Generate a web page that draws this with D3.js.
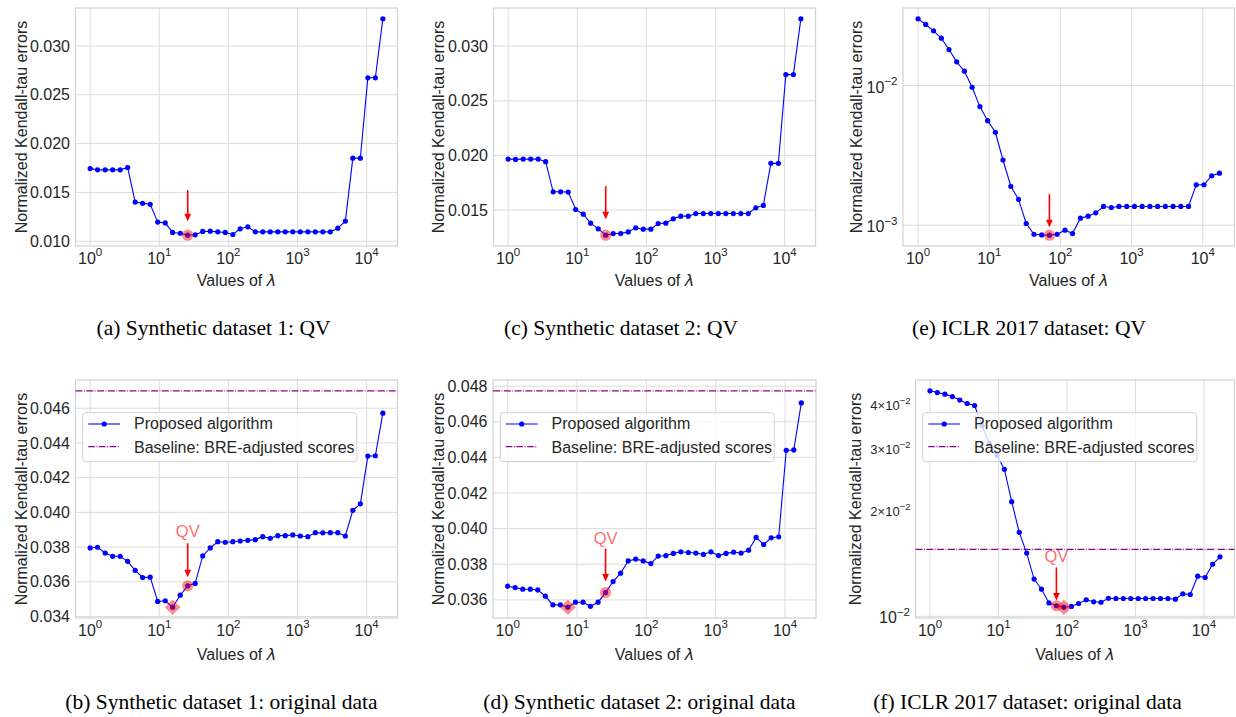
<!DOCTYPE html>
<html>
<head>
<meta charset="utf-8">
<script src="https://cdn.jsdelivr.net/npm/d3@7"></script>
<style>
body { margin: 0; background: #fff; }
svg { display: block; font-family: "Liberation Sans", Arial, sans-serif; }
</style>
</head>
<body>
<svg id="fig" width="1236" height="717"></svg>
<script>
// lambda values (x axis), shared by all six panels
var lambdas = [1, 1.28, 1.65, 2.12, 2.72, 3.49, 4.48, 5.75, 7.39, 9.49,
	12.2, 15.6, 20.1, 25.8, 33.1, 42.5, 54.6, 70.1, 90.0, 116,
	148, 191, 245, 314, 403, 518, 665, 854, 1097, 1408,
	1808, 2322, 2981, 3828, 4915, 6311, 8103, 10405, 13360, 17154];

// normalized Kendall-tau errors
var errSyn1QV = [0.01744, 0.01731, 0.01731, 0.01731, 0.01731, 0.01755, 0.01401, 0.01388, 0.01378, 0.01196,
	0.01188, 0.0109, 0.01082, 0.01062, 0.01066, 0.011, 0.01103, 0.01096, 0.0109, 0.01069,
	0.01127, 0.01148, 0.01096, 0.01096, 0.01096, 0.01096, 0.01096, 0.01096, 0.01096, 0.01096,
	0.01096, 0.01096, 0.01096, 0.01134, 0.01206, 0.01851, 0.01851, 0.02674, 0.02674, 0.03278];
var errSyn2QV = [0.01967, 0.01964, 0.01967, 0.01967, 0.01967, 0.01943, 0.01668, 0.01668, 0.01665, 0.01506,
	0.01463, 0.01381, 0.01329, 0.01271, 0.01286, 0.01286, 0.01301, 0.01338, 0.01326, 0.01326,
	0.01378, 0.01381, 0.01421, 0.01445, 0.01445, 0.01469, 0.01469, 0.01469, 0.01469, 0.01469,
	0.01469, 0.01469, 0.01469, 0.01521, 0.01543, 0.01928, 0.01928, 0.0274, 0.0274, 0.0325];
var errIclrQV = [0.03009, 0.02742, 0.02469, 0.02188, 0.01813, 0.01479, 0.01268, 0.00973, 0.00707, 0.00561,
	0.00463, 0.00293, 0.0019, 0.00153, 0.001028, 0.000861, 0.000852, 0.000848, 0.000861, 0.000921,
	0.000871, 0.001122, 0.001161, 0.001226, 0.001362, 0.001339, 0.001362, 0.001362, 0.001362, 0.001362,
	0.001362, 0.001362, 0.001362, 0.001362, 0.001362, 0.001362, 0.001948, 0.001948, 0.00226, 0.00236];
var errSyn1Orig = [0.03795, 0.03799, 0.03766, 0.03747, 0.03747, 0.03718, 0.03666, 0.03625, 0.03627, 0.03487,
	0.03491, 0.03454, 0.03523, 0.03577, 0.03591, 0.03749, 0.03795, 0.03831, 0.03828, 0.03831,
	0.03835, 0.03839, 0.03843, 0.0386, 0.03851, 0.03866, 0.03866, 0.0387, 0.03864, 0.0386,
	0.03883, 0.03882, 0.03883, 0.03883, 0.03864, 0.04012, 0.04049, 0.04324, 0.04326, 0.04571];
var errSyn2Orig = [0.03677, 0.03669, 0.0366, 0.0366, 0.03656, 0.03621, 0.03572, 0.03572, 0.03559, 0.03587,
	0.03587, 0.03564, 0.03587, 0.03641, 0.03703, 0.0375, 0.03819, 0.03829, 0.03819, 0.03804,
	0.03846, 0.03848, 0.03861, 0.0387, 0.03866, 0.03863, 0.03855, 0.0387, 0.03849, 0.03861,
	0.03868, 0.03863, 0.03879, 0.03951, 0.03911, 0.03949, 0.03954, 0.0444, 0.04442, 0.04706];
var errIclrOrig = [0.04383, 0.04334, 0.04289, 0.04222, 0.04124, 0.04034, 0.03981, 0.03486, 0.03105, 0.02871,
	0.0262, 0.0212, 0.01734, 0.01514, 0.01277, 0.01195, 0.01092, 0.01072, 0.01062, 0.01067,
	0.01088, 0.01115, 0.011, 0.01097, 0.01126, 0.01124, 0.01124, 0.01124, 0.01124, 0.01124,
	0.01124, 0.01124, 0.01124, 0.01119, 0.01159, 0.01154, 0.01301, 0.0129, 0.01407, 0.01477];

// baseline (BRE-adjusted scores)
var baseSyn1 = 0.0470, baseSyn2 = 0.04774, baseIclr = 0.0155;

// tick labels
var xTicks = [1, 10, 100, 1000, 10000];
var yTicksSyn1QV = [0.010, 0.015, 0.020, 0.025, 0.030];
var yTicksSyn2QV = [0.015, 0.020, 0.025, 0.030];
var yTicksIclrQV = [0.001, 0.01];
var yTicksSyn1Orig = [0.034, 0.036, 0.038, 0.040, 0.042, 0.044, 0.046];
var yTicksSyn2Orig = [0.036, 0.038, 0.040, 0.042, 0.044, 0.046, 0.048];
var yTicksIclrOrig = [0.01];
var yMinorIclrOrig = [0.02, 0.03, 0.04];

var legendNames = ["Proposed algorithm", "Baseline: BRE-adjusted scores"];
var captions = ["(a) Synthetic dataset 1: QV", "(c) Synthetic dataset 2: QV", "(e) ICLR 2017 dataset: QV",
	"(b) Synthetic dataset 1: original data", "(d) Synthetic dataset 2: original data", "(f) ICLR 2017 dataset: original data"];

var panels = [
	{data: errSyn1QV, ticks: yTicksSyn1QV, logY: false, left: 75.5, right: 397.5, top: 8, bottom: 246, xlabGap: 40,
		qv: 13, tipGap: 14, arrowLen: 31, ylabX: 26.5, cap: 0, capX: 213.5, capY: 335},
	{data: errSyn2QV, ticks: yTicksSyn2QV, logY: false, left: 493.5, right: 815.5, top: 8, bottom: 246, xlabGap: 40,
		qv: 13, tipGap: 16, arrowLen: 33, ylabX: 443.5, cap: 1, capX: 621, capY: 335},
	{data: errIclrQV, ticks: yTicksIclrQV, logY: true, left: 903, right: 1234.5, top: 8, bottom: 246, xlabGap: 40,
		qv: 17, tipGap: 8, arrowLen: 33, ylabX: 861.5, cap: 2, capX: 1029, capY: 335},
	{data: errSyn1Orig, ticks: yTicksSyn1Orig, logY: false, left: 75.5, right: 397.5, top: 380, bottom: 618, xlabGap: 42,
		qv: 13, best: 11, base: baseSyn1, tipGap: 8.6, arrowLen: 34, textGap: 6, ylabX: 26.5, cap: 3, capX: 221.5, capY: 709},
	{data: errSyn2Orig, ticks: yTicksSyn2Orig, logY: false, left: 493, right: 816, top: 380, bottom: 618, xlabGap: 42,
		qv: 13, best: 8, base: baseSyn2, tipGap: 11, arrowLen: 33, textGap: 4.5, ylabX: 443.5, cap: 4, capX: 639.5, capY: 709},
	{data: errIclrOrig, ticks: yTicksIclrOrig, minor: yMinorIclrOrig, logY: true, left: 915.5, right: 1234.5, top: 380, bottom: 618, xlabGap: 42,
		qv: 17, best: 18, base: baseIclr, tipGap: 5.3, arrowLen: 33, textGap: 5, ylabX: 860.7, cap: 5, capX: 1027.5, capY: 709}
];

var svg = d3.select("#fig");
var textColor = "#262626", gridColor = "#dcdcdc";

function padLog(vals) {
	var e = d3.extent(vals).map(Math.log10), d = (e[1] - e[0]) * 0.05;
	return [Math.pow(10, e[0] - d), Math.pow(10, e[1] + d)];
}
function padLin(vals) {
	var e = d3.extent(vals), d = (e[1] - e[0]) * 0.05;
	return [e[0] - d, e[1] + d];
}
function supLabel(sel, base, exp, bigSize, smallSize) {
	sel.append("tspan").attr("font-size", bigSize).text(base);
	sel.append("tspan").attr("font-size", smallSize).attr("dy", -0.45 * bigSize).text(exp);
}

panels.forEach(function(p) {
	var x = d3.scaleLog().domain(padLog(lambdas)).range([p.left, p.right]);
	var yVals = p.base != null ? p.data.concat([p.base]) : p.data;
	var y = (p.logY ? d3.scaleLog().domain(padLog(yVals)) : d3.scaleLinear().domain(padLin(yVals)))
		.range([p.bottom, p.top]);

	var g = svg.append("g");

	// grid
	g.selectAll(".vg").data(xTicks).enter().append("line")
		.attr("x1", function(d) { return x(d); }).attr("x2", function(d) { return x(d); })
		.attr("y1", p.top).attr("y2", p.bottom)
		.attr("stroke", gridColor).attr("stroke-width", 1);
	g.selectAll(".hg").data(p.ticks).enter().append("line")
		.attr("x1", p.left).attr("x2", p.right)
		.attr("y1", function(d) { return y(d); }).attr("y2", function(d) { return y(d); })
		.attr("stroke", gridColor).attr("stroke-width", 1);
	g.append("rect")
		.attr("x", p.left).attr("y", p.top)
		.attr("width", p.right - p.left).attr("height", p.bottom - p.top)
		.attr("fill", "none").attr("stroke", "#d2d2d2").attr("stroke-width", 1.2);

	// x tick labels
	g.selectAll(".xt").data(xTicks).enter().append("text")
		.attr("x", function(d) { return x(d); }).attr("y", p.bottom + 17.5)
		.attr("text-anchor", "middle").attr("fill", textColor)
		.each(function(d) { supLabel(d3.select(this), "10", String(Math.round(Math.log10(d))), 16, 11.5); });

	// y tick labels
	var yt = g.selectAll(".yt").data(p.ticks).enter().append("text")
		.attr("x", p.left - 5.5).attr("text-anchor", "end").attr("fill", textColor);
	if (p.logY) {
		yt.attr("y", function(d) { return y(d) + 7; })
			.each(function(d) { supLabel(d3.select(this), "10", "\u2212" + Math.round(-Math.log10(d)), 16, 11.5); });
	} else {
		yt.attr("y", function(d) { return y(d); }).attr("dy", "0.35em").attr("font-size", 16)
			.text(function(d) { return d3.format(".3f")(d); });
	}
	if (p.minor) {
		g.selectAll(".ym").data(p.minor).enter().append("text")
			.attr("x", p.left - 5).attr("y", function(d) { return y(d) + 5; })
			.attr("text-anchor", "end").attr("fill", textColor)
			.each(function(d) { supLabel(d3.select(this), Math.round(d * 100) + "\u00d710", "\u22122", 13, 9.5); });
	}

	// axis labels
	var xl = g.append("text")
		.attr("x", (p.left + p.right) / 2).attr("y", p.bottom + p.xlabGap)
		.attr("text-anchor", "middle").attr("font-size", 16).attr("fill", textColor);
	xl.append("tspan").text("Values of ");
	xl.append("tspan").attr("font-family", "DejaVu Sans").attr("font-style", "italic").text("\u03bb");
	g.append("text")
		.attr("transform", "translate(" + p.ylabX + "," + (p.top + p.bottom) / 2 + ") rotate(-90)")
		.attr("text-anchor", "middle").attr("font-size", 16).attr("fill", textColor)
		.text("Normalized Kendall-tau errors");

	// baseline
	if (p.base != null) {
		g.append("line")
			.attr("x1", p.left).attr("x2", p.right)
			.attr("y1", y(p.base)).attr("y2", y(p.base))
			.attr("stroke", "#8e008e").attr("stroke-width", 1.3)
			.attr("stroke-dasharray", "7,1.5,0.8,1.5");
	}

	// proposed algorithm line + dots
	var line = d3.line()
		.x(function(d, i) { return x(lambdas[i]); })
		.y(function(d) { return y(d); });
	g.append("path").datum(p.data)
		.attr("d", line).attr("fill", "none")
		.attr("stroke", "#0000ff").attr("stroke-width", 1.1);
	g.selectAll(".pt").data(p.data).enter().append("circle")
		.attr("cx", function(d, i) { return x(lambdas[i]); })
		.attr("cy", function(d) { return y(d); })
		.attr("r", 2.6).attr("fill", "#0000ff");

	// best value (diamond) and QV choice (circle)
	if (p.best != null) {
		var bx = x(lambdas[p.best]), by = y(p.data[p.best]), s = 7.8;
		g.append("path")
			.attr("d", "M" + bx + "," + (by - s) + "L" + (bx + s) + "," + by + "L" + bx + "," + (by + s) + "L" + (bx - s) + "," + by + "Z")
			.attr("fill", "#ff0000").attr("fill-opacity", 0.45);
	}
	var qx = x(lambdas[p.qv]), qy = y(p.data[p.qv]);
	g.append("circle").attr("cx", qx).attr("cy", qy).attr("r", 5.6)
		.attr("fill", "#ff0000").attr("fill-opacity", 0.45);

	// arrow
	var tip = qy - p.tipGap, start = tip - p.arrowLen;
	g.append("line")
		.attr("x1", qx).attr("x2", qx).attr("y1", start).attr("y2", tip - 6)
		.attr("stroke", "#ff0000").attr("stroke-width", 1.6);
	g.append("path")
		.attr("d", "M" + (qx - 3.4) + "," + (tip - 7.5) + "L" + (qx + 3.4) + "," + (tip - 7.5) + "L" + qx + "," + tip + "Z")
		.attr("fill", "#ff0000");
	if (p.textGap != null) {
		g.append("text")
			.attr("x", qx).attr("y", start - p.textGap)
			.attr("text-anchor", "middle").attr("font-size", 16.5)
			.attr("fill", "#ff0000").attr("fill-opacity", 0.6)
			.text("QV");
	}

	// legend
	if (p.base != null) {
		var lg = g.append("g").attr("transform", "translate(" + (p.left + 7.2) + "," + (p.top + 32.7) + ")");
		lg.append("rect").attr("width", 274).attr("height", 49).attr("rx", 3)
			.attr("fill", "#fff").attr("fill-opacity", 0.8)
			.attr("stroke", "#d0d0d0").attr("stroke-width", 1);
		lg.append("line").attr("x1", 5.6).attr("x2", 37.3).attr("y1", 11.3).attr("y2", 11.3)
			.attr("stroke", "#0000ff").attr("stroke-width", 1.1);
		lg.append("circle").attr("cx", 21.5).attr("cy", 11.3).attr("r", 2.6).attr("fill", "#0000ff");
		lg.append("line").attr("x1", 5.6).attr("x2", 37.3).attr("y1", 34).attr("y2", 34)
			.attr("stroke", "#8e008e").attr("stroke-width", 1.3)
			.attr("stroke-dasharray", "6.5,1.6,1,1.6");
		lg.selectAll(".lt").data(legendNames).enter().append("text")
			.attr("x", 51.3).attr("y", function(d, i) { return 16.6 + i * 24; })
			.attr("font-size", 16).attr("fill", textColor)
			.text(function(d) { return d; });
	}

	// caption
	svg.append("text")
		.attr("x", p.capX).attr("y", p.capY)
		.attr("text-anchor", "middle")
		.attr("font-family", "'Liberation Serif', 'Times New Roman', serif")
		.attr("font-size", 21.5).attr("fill", "#000")
		.text(captions[p.cap]);
});
</script>
</body>
</html>
